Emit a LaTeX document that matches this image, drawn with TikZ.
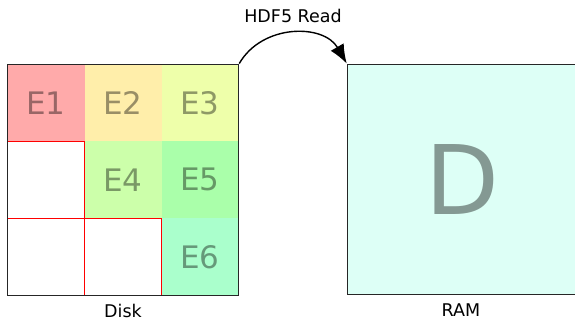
\documentclass[tikz,border=0pt]{standalone}
\usepackage{fontspec}
\setmainfont{DejaVu Sans}
\usetikzlibrary{arrows.meta}

\definecolor{eone}{HTML}{FFAAAA}
\definecolor{etwo}{HTML}{FFEEAA}
\definecolor{ethree}{HTML}{EEFFAA}
\definecolor{efour}{HTML}{CCFFAA}
\definecolor{efive}{HTML}{AAFFAA}
\definecolor{esix}{HTML}{AAFFCC}
\definecolor{ramfill}{HTML}{DDFFF6}

\begin{document}
\begin{tikzpicture}[x=1pt, y=-1pt,
    chunk/.style ={rectangle, inner sep = 0pt, minimum size=77pt, text opacity=0.4,
                   font=\fontsize{31}{31}\selectfont},
    hole/.style ={rectangle, draw=red, line width=0.8pt, inner sep = 0pt, minimum size=77pt},
    caption/.style ={inner sep=1pt, font=\fontsize{17.5}{17.5}\selectfont}]
   \useasboundingbox (0,0) rectangle (575,320);

   % chunks on disk
   \node[chunk, fill=eone]   (E1) at (46,102.8)  {E1};
   \node[chunk, fill=etwo]   (E2) at (123,102.8) {E2};
   \node[chunk, fill=ethree] (E3) at (200,102.8) {E3};
   \node[hole]               (H1) at (46,179.8)  {};
   \node[chunk, fill=efour]  (E4) at (123,179.8) {E4};
   \node[chunk, fill=efive]  (E5) at (200,179.8) {E5};
   \node[hole]               (H2) at (46,256.8)  {};
   \node[hole]               (H3) at (123,256.8) {};
   \node[chunk, fill=esix]   (E6) at (200,256.8) {E6};

   \node[draw=black!85, line width=1.5pt, inner sep=0pt, minimum size=231pt] (disk) at (123,179.8) {};

   % dataset in memory
   \node[draw=black!85, line width=1.5pt, fill=ramfill, inner sep=0pt, text opacity=0.4,
         minimum width=229pt, minimum height=230pt,
         font=\fontsize{96}{96}\selectfont] (ram) at (462,179.3) {D};

   \node[caption] (disklabel) at (123,310.5) {Disk};
   \node[caption] (ramlabel)  at (461,310.5) {RAM};
   \node[caption] (read)      at (293,16)    {HDF5 Read};

   \draw[line width=1.4pt, -{Latex[length=19pt,width=15pt]}] (disk.north east) to[out=60, in=120, looseness=1.1] (ram.north west);
 \end{tikzpicture}
\end{document}
